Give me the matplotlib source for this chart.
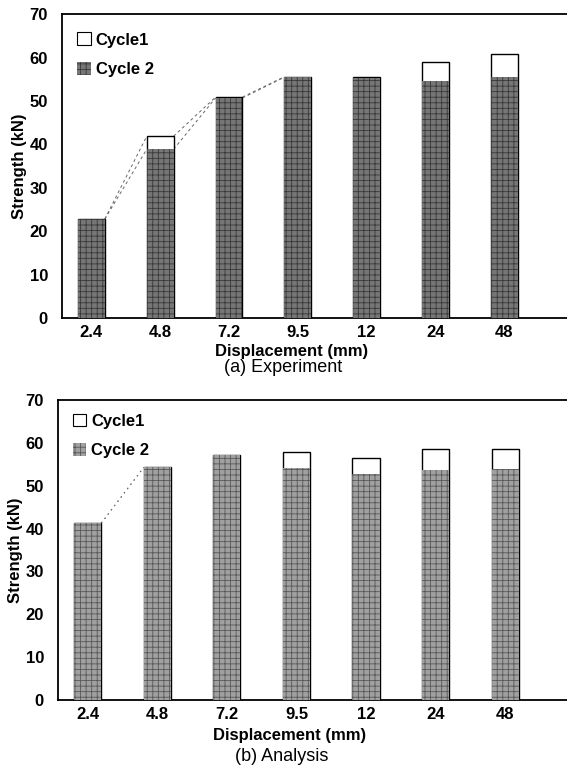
import numpy as np
import matplotlib
matplotlib.use('agg')
import matplotlib.pyplot as plt
from matplotlib.patches import Patch

plt.rcParams['font.family'] = ['Liberation Sans', 'DejaVu Sans']
plt.rcParams['hatch.linewidth'] = 0.6

displacements = ['2.4', '4.8', '7.2', '9.5', '12', '24', '48']

# (a) Experiment
exp_cycle1 = [22.8, 41.9, 50.9, 55.6, 55.5, 59.0, 60.8]
exp_cycle2 = [22.8, 38.9, 50.7, 55.5, 55.3, 54.6, 55.5]

# (b) Analysis
ana_cycle1 = [41.3, 54.3, 57.1, 57.8, 56.6, 58.7, 58.5]
ana_cycle2 = [41.3, 54.3, 57.1, 54.1, 52.7, 53.6, 53.9]

# rect, cycle1, cycle2, colours, title, n guide points, label y offsets, legend anchor
panels = [
    dict(rect=[0.109, 0.5865, 0.92, 0.395], c1=exp_cycle1, c2=exp_cycle2,
         fc='#767676', hc='#383838', title='(a) Experiment', nguide=4,
         ylab=-0.109, ytit=-0.163, leg=(0.030, 0.94), ls=(0, (3, 3))),
    dict(rect=[0.102, 0.0897, 0.93, 0.390], c1=ana_cycle1, c2=ana_cycle2,
         fc='#a0a0a0', hc='#585858', title='(b) Analysis', nguide=2,
         ylab=-0.117, ytit=-0.188, leg=(0.028, 0.955), ls=(0, (1.5, 4))),
]

fig = plt.figure(figsize=(5.67, 7.69), dpi=100)
x = np.arange(len(displacements))
w = 0.39

for p in panels:
    ax = fig.add_axes(p['rect'])
    c1, c2 = p['c1'], p['c2']
    # thin guide lines joining bar tops on the rising part
    for vals in (c1, c2):
        for i in range(p['nguide'] - 1):
            ax.plot([x[i] + w / 2, x[i + 1] - w / 2], [vals[i], vals[i + 1]],
                    ls=p['ls'], color='#666666', lw=0.7, zorder=1)
    ax.bar(x, c1, w, facecolor='white', edgecolor='black', linewidth=1.0, zorder=2)
    ax.bar(x, c2, w, facecolor=p['fc'], edgecolor=p['hc'], hatch='+++', linewidth=0, zorder=3)

    ax.set_ylim(0, 70)
    ax.set_xlim(-0.43, 7.15)
    ax.set_yticks(range(0, 71, 10))
    ax.set_xticks(x)
    ax.set_xticklabels(displacements)
    ax.tick_params(axis='y', length=0, labelsize=12, pad=10)
    ax.tick_params(axis='x', length=0, labelsize=12, pad=5)
    for lab in ax.get_xticklabels() + ax.get_yticklabels():
        lab.set_fontweight('bold')
    ax.set_ylabel('Strength (kN)', fontsize=12, fontweight='bold', labelpad=2)
    ax.text(0.44, p['ylab'], 'Displacement (mm)', transform=ax.transAxes,
            ha='center', va='center', fontsize=12, fontweight='bold')
    ax.text(0.425, p['ytit'], p['title'], transform=ax.transAxes,
            ha='center', va='center', fontsize=13)
    for s in ['top', 'left', 'bottom']:
        ax.spines[s].set_linewidth(1.3)
    ax.spines['right'].set_visible(False)

    handles = [Patch(facecolor='white', edgecolor='black', linewidth=0.8, label='Cycle1'),
               Patch(facecolor=p['fc'], edgecolor=p['hc'], hatch='+++', linewidth=0, label='Cycle 2')]
    ax.legend(handles=handles, loc='upper left', frameon=False, handlelength=0.8,
              handleheight=0.8, handletextpad=0.3, labelspacing=0.85, borderpad=0,
              borderaxespad=0, prop={'weight': 'bold', 'size': 12},
              bbox_to_anchor=p['leg'])

fig.savefig('out.png', dpi=100)
